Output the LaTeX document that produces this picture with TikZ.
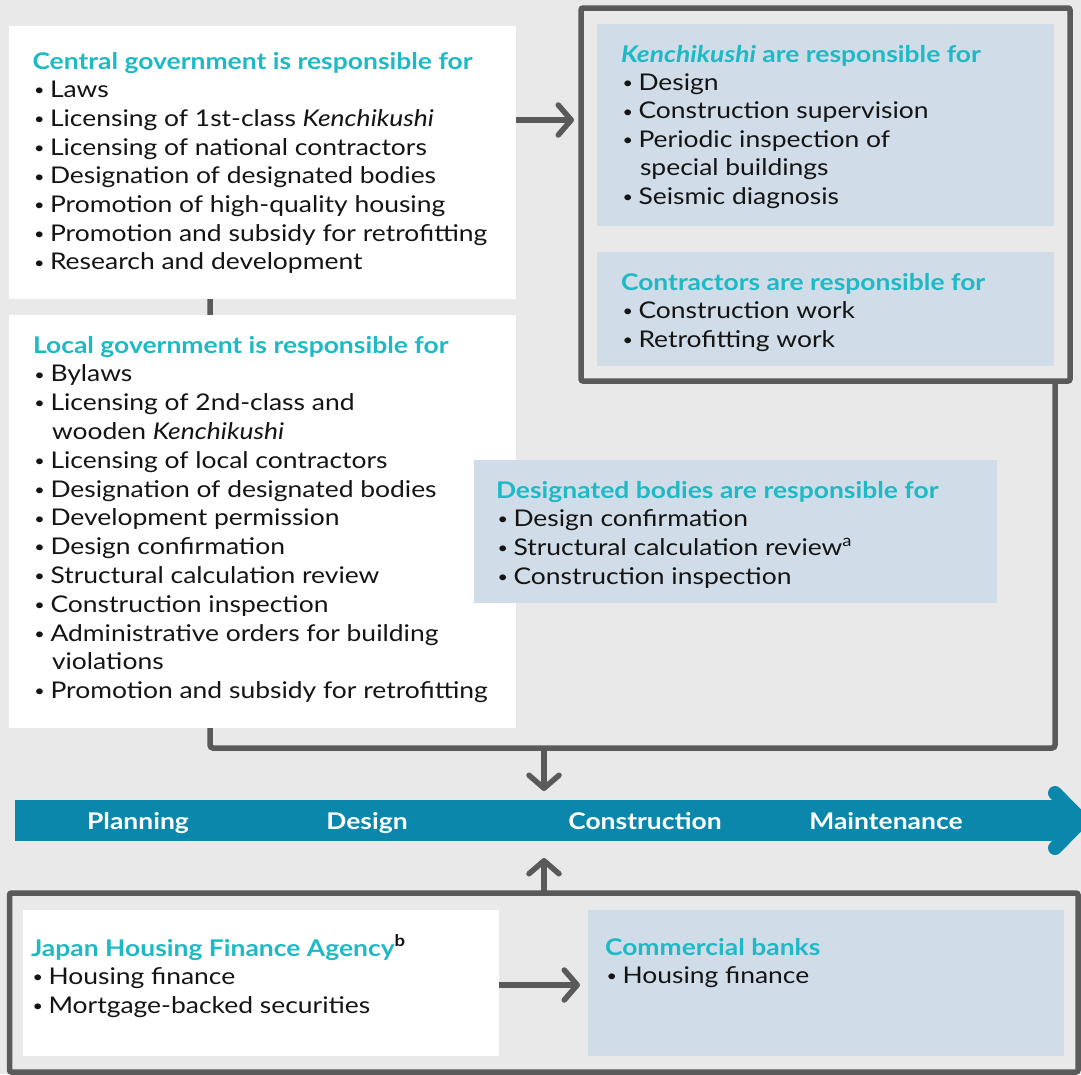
\documentclass[tikz,border=0pt]{standalone}
\usepackage{fontspec}
\usepackage{graphicx}
\setmainfont{Lato}[FakeStretch=1.15]
\usetikzlibrary{arrows.meta}
\definecolor{bgc}{HTML}{E9E9E9}
\definecolor{hdcol}{HTML}{1DBAC6}
\definecolor{boxblue}{HTML}{D0DCE7}
\definecolor{bandc}{HTML}{0A87AB}
\definecolor{lgray}{HTML}{5A5A5A}
\definecolor{txt}{HTML}{141414}
\pgfdeclarelayer{back}
\pgfdeclarelayer{lines}
\pgfsetlayers{back,lines,main}
\newcommand\bu{\makebox[17.5pt][l]{\hspace{1.5pt}\raisebox{1.8pt}{\scalebox{0.68}{•}}}}
\newcommand\cont{\hspace*{19pt}}
\newcommand\hd[1]{{\bfseries\color{hdcol}#1}}
\tikzset{
  wbox/.style={fill=white, draw=none, inner sep=0pt, outer sep=0pt, anchor=north west},
  bbox/.style={fill=boxblue, draw=none, inner sep=0pt, outer sep=0pt, anchor=north west},
  frame/.style={draw=lgray, line width=5.5pt, rounded corners=2pt, inner sep=0pt, outer sep=0pt, anchor=north west},
  body/.style={anchor=north west, inner sep=0pt, outer sep=0pt, align=left, text=txt,
    font=\fontsize{23}{28.7}\selectfont},
  conn/.style={draw=lgray, line width=5.5pt},
  arr/.style={conn, -{Straight Barb[round, length=13pt, width=30pt]}},
  bandlbl/.style={text=white, font=\fontsize{23}{26}\selectfont\bfseries, inner sep=0pt, anchor=base}
}
\begin{document}
\begin{tikzpicture}[x=1pt,y=-1pt]
\begin{pgfonlayer}{back}
\fill[bgc] (0,0) rectangle (1081,1074);
\end{pgfonlayer}
\useasboundingbox (0,0) rectangle (1081,1074);

% boxes
\node[wbox, minimum width=507pt, minimum height=273pt] (cg) at (9,26) {};
\node[wbox, minimum width=507pt, minimum height=413pt] (lg) at (9,315) {};
\node[frame, minimum width=489pt, minimum height=373pt] (rf) at (581,8) {};
\node[bbox, minimum width=457pt, minimum height=202pt] (kb) at (597,24) {};
\node[bbox, minimum width=457pt, minimum height=114pt] (cb) at (597,252) {};
\node[bbox, minimum width=523pt, minimum height=143pt] (db) at (474,460) {};
\node[frame, minimum width=1068.5pt, minimum height=179pt] (bf) at (9.5,893) {};
\node[wbox, minimum width=476pt, minimum height=146pt] (jb) at (23,910) {};
\node[bbox, minimum width=476pt, minimum height=146pt] (mb) at (588,910) {};

% texts
\node[body] (cgt) at (32.5,49) {\rule{0pt}{20pt}\hd{Central government is responsible for}\\
\bu Laws\\
\bu Licensing of 1st-class \textit{Kenchikushi}\\
\bu Licensing of national contractors\\
\bu Designation of designated bodies\\
\bu Promotion of high-quality housing\\
\bu Promotion and subsidy for retrofitting\\
\bu Research and development};

\node[body, font=\fontsize{23}{28.8}\selectfont] (lgt) at (33,333) {\rule{0pt}{20pt}\hd{Local government is responsible for}\\
\bu Bylaws\\
\bu Licensing of 2nd-class and\\
\cont wooden \textit{Kenchikushi}\\
\bu Licensing of local contractors\\
\bu Designation of designated bodies\\
\bu Development permission\\
\bu Design confirmation\\
\bu Structural calculation review\\
\bu Construction inspection\\
\bu Administrative orders for building\\
\cont violations\\
\bu Promotion and subsidy for retrofitting};

\node[body, font=\fontsize{23}{28.4}\selectfont] (kt) at (621,42) {\rule{0pt}{20pt}\hd{\textit{Kenchikushi} are responsible for}\\
\bu Design\\
\bu Construction supervision\\
\bu Periodic inspection of\\
\cont special buildings\\
\bu Seismic diagnosis};

\node[body] (ct) at (621,270) {\rule{0pt}{20pt}\hd{Contractors are responsible for}\\
\bu Construction work\\
\bu Retrofitting work};

\node[body] (dt) at (496,478) {\rule{0pt}{20pt}\hd{Designated bodies are responsible for}\\
\bu Design confirmation\\
\bu Structural calculation review\textsuperscript{a}\\
\bu Construction inspection};

\node[body] (jt) at (31,935) {\rule{0pt}{20pt}\hd{Japan Housing Finance Agency}\textsuperscript{\bfseries b}\\
\bu Housing finance\\
\bu Mortgage-backed securities};

\node[body] (mt) at (605,935) {\rule{0pt}{20pt}\hd{Commercial banks}\\
\bu Housing finance};

% band
\node[fill=bandc, inner sep=0pt, outer sep=0pt, anchor=north west, minimum width=1047pt, minimum height=41pt] (band) at (15,800) {};
\fill[bandc] (band.north east) -- (1062,800) -- (1082,820.5) -- (1062,841) -- (band.south east) -- cycle;
\draw[bandc, line width=14pt, line cap=round, line join=round] (1055,793) -- (1082,820.5) -- (1055,848);
\node[bandlbl] (p1) at (138,829) {Planning};
\node[bandlbl] (p2) at (367,829) {Design};
\node[bandlbl] (p3) at (645,829) {Construction};
\node[bandlbl] (p4) at (886,829) {Maintenance};

% connectors
\coordinate (bl) at (210,748);
\coordinate (br) at (1055,748);
\coordinate (bm) at (544,748);
\begin{pgfonlayer}{lines}
\draw[conn, rounded corners=3pt] (cg.south -| bl) -- (bl) -- (br) -- (rf.south -| br);
\end{pgfonlayer}
\draw[arr] (cg.east |- 0,120) -- ([xshift=-7pt]rf.west |- 0,120);
\draw[arr] (bm) -- ([yshift=9pt]band.north -| bm);
\draw[arr] (bf.north -| bm) -- ([yshift=-17pt]band.south -| bm);
\draw[arr] (jb.east |- 0,985) -- ([xshift=-8pt]mb.west |- 0,985);
\end{tikzpicture}
\end{document}
